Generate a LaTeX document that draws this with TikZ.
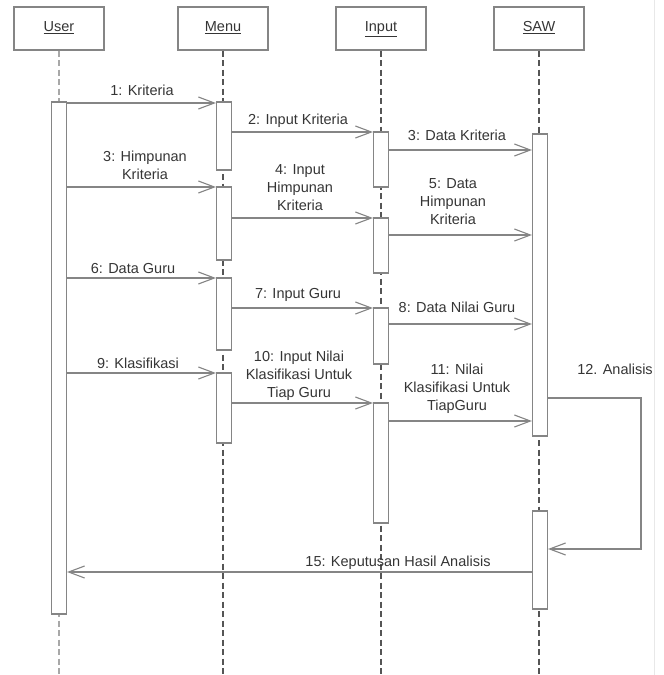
\documentclass[tikz,border=0pt]{standalone}
\usepackage{fontspec}
\setmainfont{Liberation Sans}
\usetikzlibrary{arrows.meta}
\definecolor{ln}{HTML}{858585}
\definecolor{tx}{HTML}{353535}
\definecolor{lifedark}{HTML}{555555}
\definecolor{lifelight}{HTML}{A8A8A8}
\begin{document}
\begin{tikzpicture}[x=1pt,y=-1pt,
  font=\fontsize{14.5}{18}\selectfont,
  head/.style={draw=ln, line width=1.1pt, minimum width=90pt, minimum height=43pt, text=tx, inner sep=0pt, text height=10.5pt, text depth=4pt},
  actbar/.style={draw=ln, fill=white, line width=1.1pt, minimum width=15pt, inner sep=0pt},
  life/.style={draw=#1, line width=1.2pt, dash pattern=on 6pt off 3.5pt},
  msg/.style={draw=ln, line width=1.1pt, -{Straight Barb[length=16pt,width=12pt,line width=1.1pt]}},
  lbl/.style={text=tx, align=center, inner sep=0pt}]
\useasboundingbox (0,0) rectangle (664,675);
\draw[gray!18, line width=1pt] (654,0) -- (654,675);

% heads
\node[head] (hu) at (59,28.5) {\underline{User}};
\node[head] (hm) at (223,28.5) {\underline{Menu}};
\node[head] (hi) at (381,28.5) {\underline{Input}};
\node[head] (hs) at (539,28.5) {\underline{SAW}};

% lifeline ends
\coordinate (eu) at (59,675);
\coordinate (em) at (223,675);
\coordinate (ei) at (381,675);
\coordinate (es) at (539,675);
\draw[life=lifelight] (hu.south) -- (eu);
\draw[life=lifedark] (hm.south) -- (em);
\draw[life=lifedark] (hi.south) -- (ei);
\draw[life=lifedark] (hs.south) -- (es);

% activation bars
\node[actbar, minimum height=512pt] (ub) at (59,358) {};
\node[actbar, minimum height=68pt] (mb1) at (224,136) {};
\node[actbar, minimum height=73pt] (mb2) at (224,223.5) {};
\node[actbar, minimum height=72pt] (mb3) at (224,314) {};
\node[actbar, minimum height=70pt] (mb4) at (224,408) {};
\node[actbar, minimum height=55pt] (ib1) at (381,159.5) {};
\node[actbar, minimum height=55pt] (ib2) at (381,245.5) {};
\node[actbar, minimum height=56pt] (ib3) at (381,336) {};
\node[actbar, minimum height=120pt] (ib4) at (381,463) {};
\node[actbar, minimum height=302pt] (sb1) at (540,285) {};
\node[actbar, minimum height=98pt] (sb2) at (540,560) {};

% messages
\draw[msg] (ub.east |- 0,103) -- (mb1.west |- 0,103);
\node[lbl] (l1) at (142,90) {1: Kriteria};
\draw[msg] (mb1.east |- 0,132) -- (ib1.west |- 0,132);
\node[lbl] (l2) at (298,121) {2: Input Kriteria};
\draw[msg] (ib1.east |- 0,150) -- (sb1.west |- 0,150);
\node[lbl] (l3) at (457,135) {3: Data Kriteria};

\draw[msg] (ub.east |- 0,187) -- (mb2.west |- 0,187);
\node[lbl] (l3b) at (145,165.5) {3: Himpunan\\Kriteria};
\draw[msg] (mb2.east |- 0,218) -- (ib2.west |- 0,218);
\node[lbl] (l4) at (300,187.5) {4: Input\\Himpunan\\Kriteria};
\draw[msg] (ib2.east |- 0,235) -- (sb1.west |- 0,235);
\node[lbl] (l5) at (453,202) {5: Data\\Himpunan\\Kriteria};

\draw[msg] (ub.east |- 0,278) -- (mb3.west |- 0,278);
\node[lbl] (l6) at (133,269) {6: Data Guru};
\draw[msg] (mb3.east |- 0,308) -- (ib3.west |- 0,308);
\node[lbl] (l7) at (298,295) {7: Input Guru};
\draw[msg] (ib3.east |- 0,324) -- (sb1.west |- 0,324);
\node[lbl] (l8) at (457,307) {8: Data Nilai Guru};

\draw[msg] (ub.east |- 0,373) -- (mb4.west |- 0,373);
\node[lbl] (l9) at (138,363) {9: Klasifikasi};
\draw[msg] (mb4.east |- 0,403) -- (ib4.west |- 0,403);
\node[lbl] (l10) at (299,376) {10: Input Nilai\\Klasifikasi Untuk\\Tiap Guru};
\draw[msg] (ib4.east |- 0,421) -- (sb1.west |- 0,421);
\node[lbl] (l11) at (457,389) {11: Nilai\\Klasifikasi Untuk\\TiapGuru};

% self message
\coordinate (k1) at (641,398);
\coordinate (k2) at (641,549);
\draw[msg] (sb1.east |- k1) -- (k1) -- (k2) -- (sb2.east |- k2);
\node[lbl] (l12) at (615,369) {12. Analisis};

% return
\draw[msg] (sb2.west |- 0,572) -- (ub.east |- 0,572);
\node[lbl] (l15) at (398,563) {15: Keputusan Hasil Analisis};
\end{tikzpicture}
\end{document}
